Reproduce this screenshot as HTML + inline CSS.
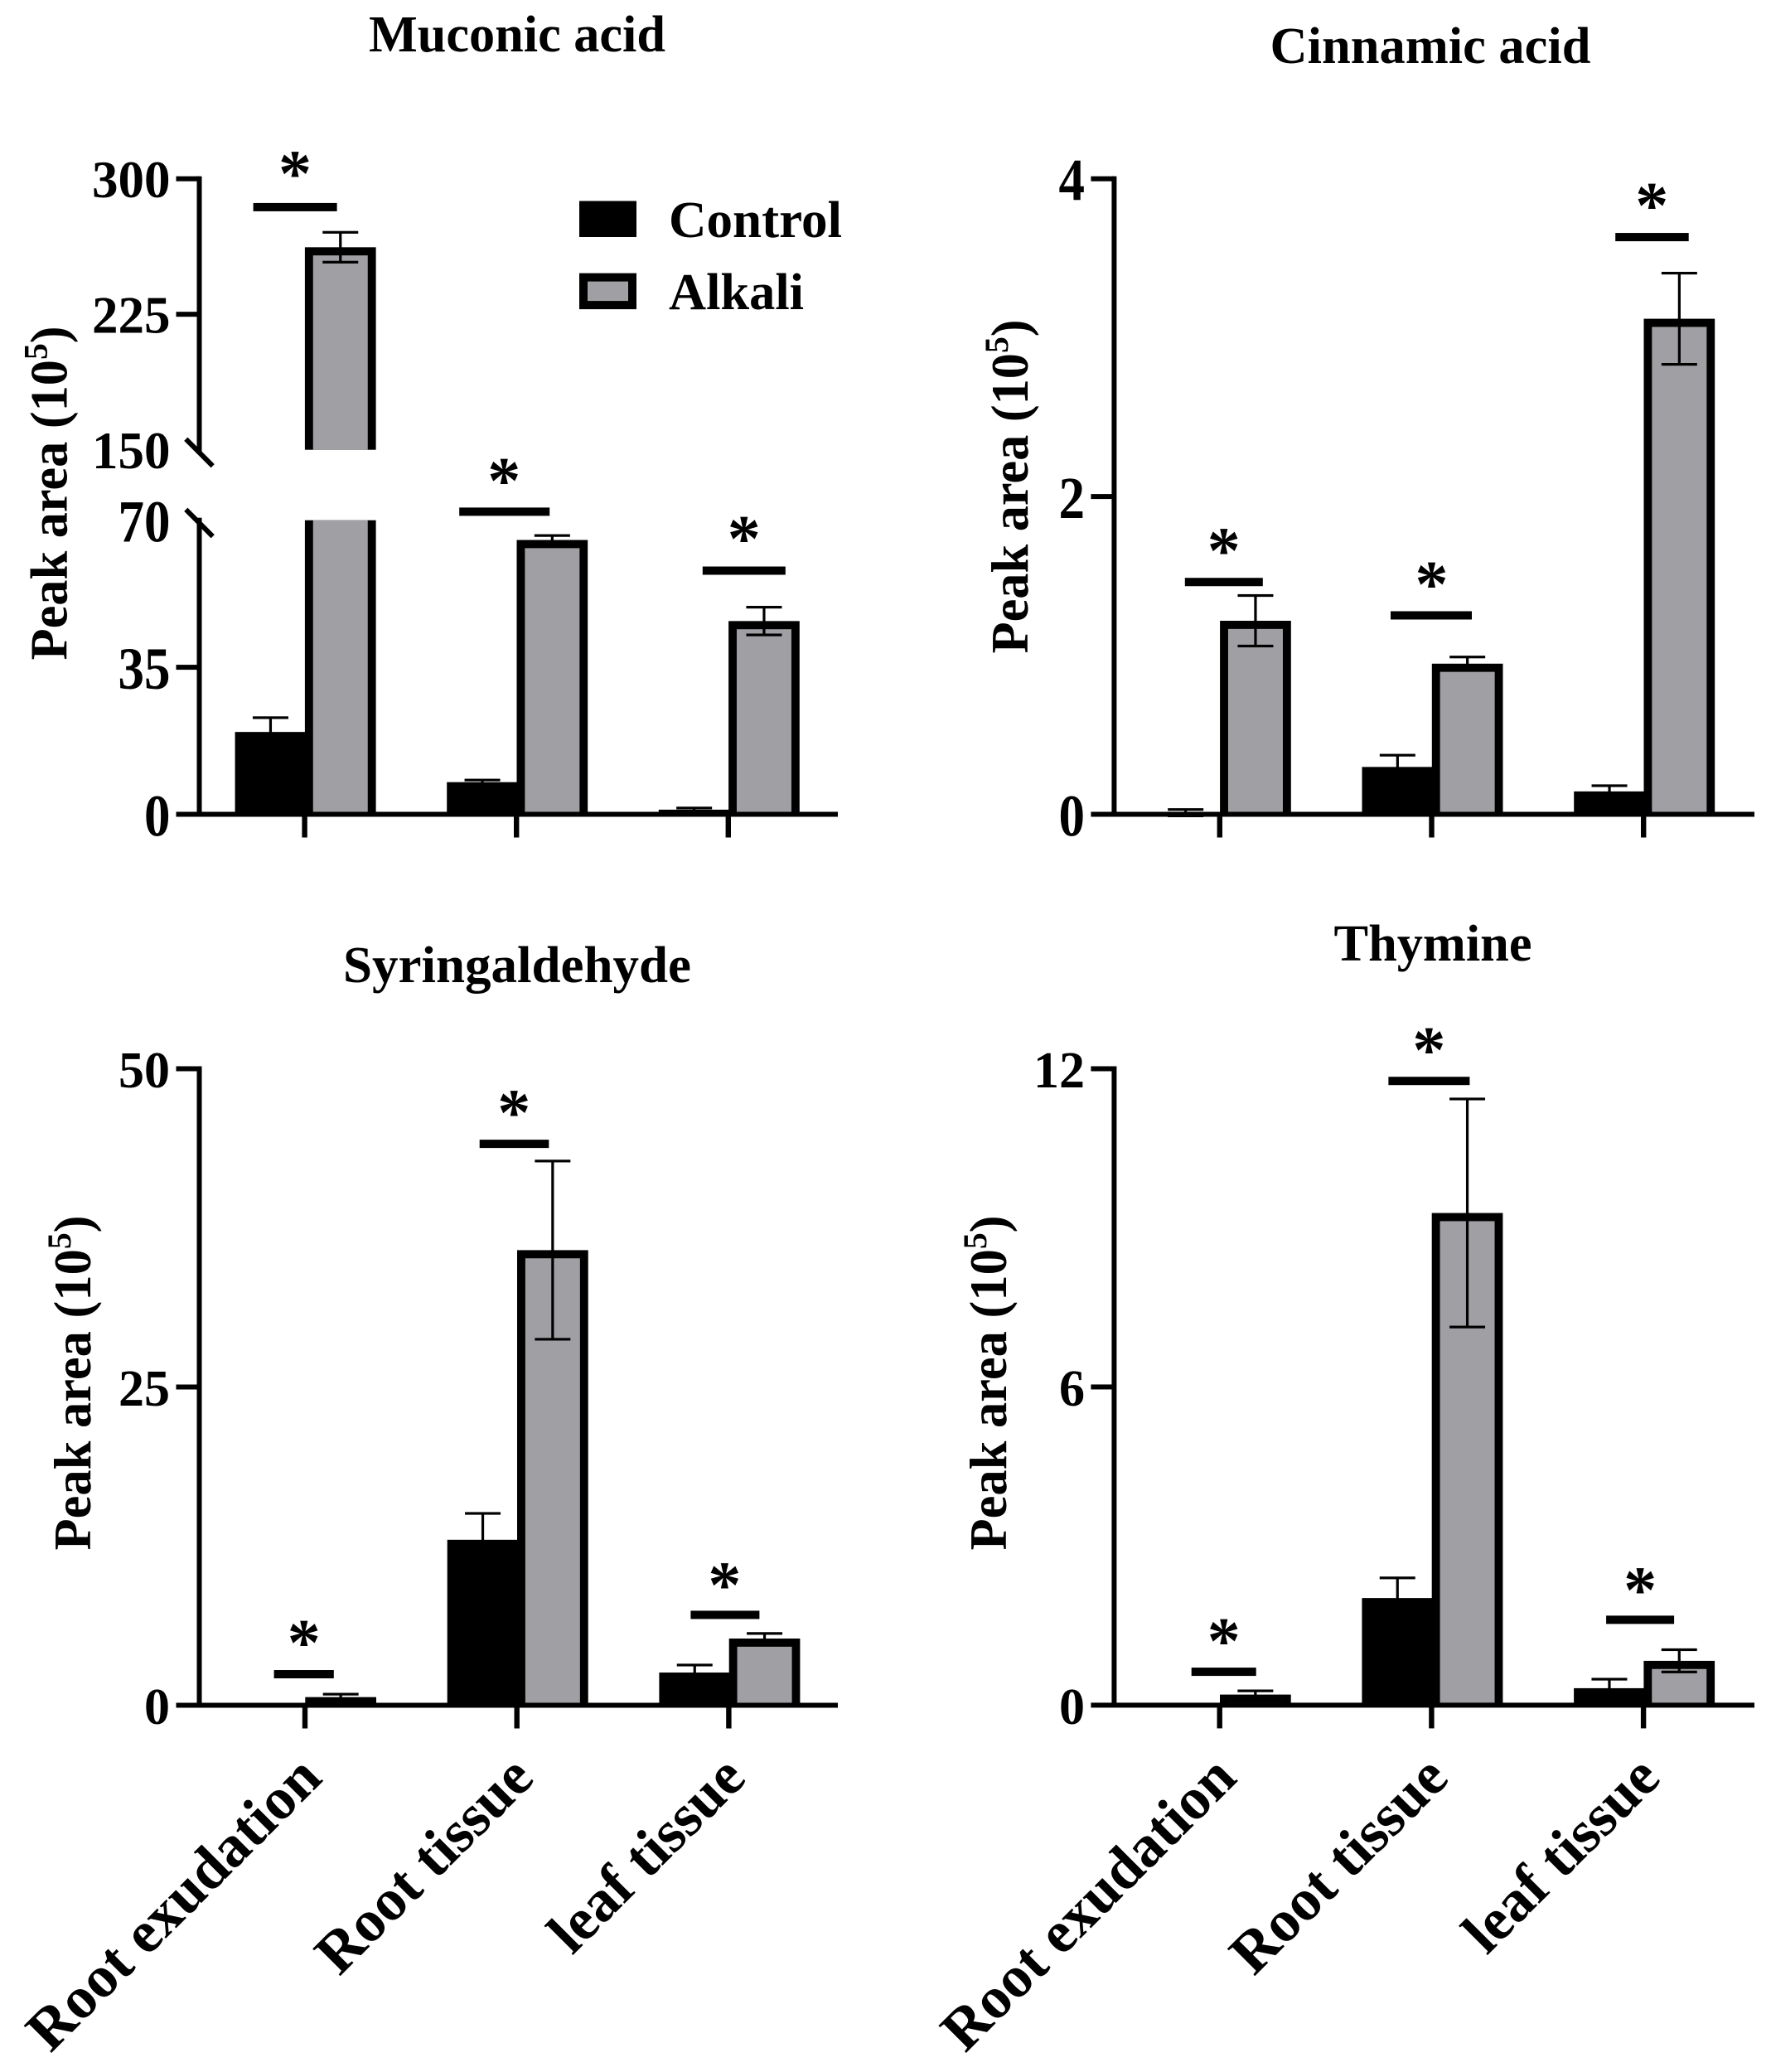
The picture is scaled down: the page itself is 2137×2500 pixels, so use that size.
<!DOCTYPE html>
<html lang="en">
<head>
<meta charset="utf-8">
<title>Peak area by tissue: four metabolites</title>
<style>
  html, body { margin: 0; padding: 0; background: #ffffff; }
  svg { display: block; }
  text { font-family: "Liberation Serif", "Times New Roman", serif; font-weight: bold; fill: #000000; }
</style>
</head>
<body>
<svg id="chart" xmlns="http://www.w3.org/2000/svg" width="2137" height="2500" viewBox="0 0 2137 2500">
  <rect x="0" y="0" width="2137" height="2500" fill="#ffffff"/>

  <text x="624" y="62" font-size="62" text-anchor="middle" textLength="358" lengthAdjust="spacingAndGlyphs">Muconic acid</text>
  <text x="1726" y="76" font-size="62" text-anchor="middle" textLength="387" lengthAdjust="spacingAndGlyphs">Cinnamic acid</text>
  <text x="624" y="1185" font-size="62" text-anchor="middle" textLength="420" lengthAdjust="spacingAndGlyphs">Syringaldehyde</text>
  <text x="1729" y="1159" font-size="62" text-anchor="middle" textLength="239" lengthAdjust="spacingAndGlyphs">Thymine</text>

  <text transform="translate(80.5,595) rotate(-90)" font-size="63" text-anchor="middle" textLength="403" lengthAdjust="spacingAndGlyphs">Peak area (10<tspan font-size="40" dy="-24">5</tspan><tspan dy="24">)</tspan></text>
  <text transform="translate(1240,587) rotate(-90)" font-size="63" text-anchor="middle" textLength="403" lengthAdjust="spacingAndGlyphs">Peak area (10<tspan font-size="40" dy="-24">5</tspan><tspan dy="24">)</tspan></text>
  <text transform="translate(109,1668.5) rotate(-90)" font-size="63" text-anchor="middle" textLength="404" lengthAdjust="spacingAndGlyphs">Peak area (10<tspan font-size="40" dy="-24">5</tspan><tspan dy="24">)</tspan></text>
  <text transform="translate(1214,1668.5) rotate(-90)" font-size="63" text-anchor="middle" textLength="404" lengthAdjust="spacingAndGlyphs">Peak area (10<tspan font-size="40" dy="-24">5</tspan><tspan dy="24">)</tspan></text>

  <g id="panels"></g>

  <g>
    <rect x="699" y="242.5" width="69" height="43.5" fill="#000000"/>
    <text x="807" y="286" font-size="62" textLength="209" lengthAdjust="spacingAndGlyphs">Control</text>
    <rect x="699" y="329.6" width="69" height="43.5" fill="#000000"/>
    <rect x="709" y="339.6" width="49" height="23.5" fill="#a0a0a4"/>
    <text x="807" y="373" font-size="62" textLength="163" lengthAdjust="spacingAndGlyphs">Alkali</text>
  </g>
</svg>

<script>
// ---- Chart data (units: peak area x 10^5) ----
const categories = ['Root exudation', 'Root tissue', 'leaf tissue'];

const yTicksMuconic = [0, 35, 70, 150, 225, 300];
const controlMuconic = [19.6, 7.65, 1.1];
const controlErrMuconic = [3.4, 0.5, 0.4];
const alkaliMuconic = [262.1, 65.3, 46];
const alkaliErrMuconic = [8.26, 1.06, 3.3];
const sigLevelMuconic = [284.3, 79.7, 58];

const yTicksCinnamic = [0, 2, 4];
const controlCinnamic = [0.01, 0.298, 0.144];
const controlErrCinnamic = [0.02, 0.074, 0.036];
const alkaliCinnamic = [1.218, 0.948, 3.119];
const alkaliErrCinnamic = [0.159, 0.042, 0.287];
const sigLevelCinnamic = [1.462, 1.252, 3.633];

const yTicksSyringaldehyde = [0, 25, 50];
const controlSyringaldehyde = [0, 13, 2.57];
const controlErrSyringaldehyde = [0, 2.07, 0.59];
const alkaliSyringaldehyde = [0.64, 35.75, 5.24];
const alkaliErrSyringaldehyde = [0.23, 7, 0.4];
const sigLevelSyringaldehyde = [2.44, 44.1, 7.1];

const yTicksThymine = [0, 6, 12];
const controlThymine = [0, 2.02, 0.32];
const controlErrThymine = [0, 0.38, 0.17];
const alkaliThymine = [0.2, 9.28, 0.836];
const alkaliErrThymine = [0.07, 2.15, 0.21];
const sigLevelThymine = [0.63, 11.77, 1.61];

// ---- Rendering ----
const SVG_NS = 'http://www.w3.org/2000/svg';
const GRAY = '#a0a0a4';
const root = document.getElementById('panels');

function make(parent, tag, attrs, name) {
  const el = document.createElementNS(SVG_NS, tag);
  for (const k in attrs) el.setAttribute(k, attrs[k]);
  
  
  parent.appendChild(el);
  return el;
}

function piecewise(domain, range) {
  return function (v) {
    let i = 0;
    while (i < domain.length - 2 && v > domain[i + 1]) i++;
    const t = (v - domain[i]) / (domain[i + 1] - domain[i]);
    return range[i] + t * (range[i + 1] - range[i]);
  };
}

function drawPanel(p) {
  const g = make(root, 'g', {}, 'panel-' + p.key);
  const y = piecewise(p.domain, p.range);
  const base = y(0);
  const x = function (i) { return p.x0 + i * p.step; };
  const BAR = 85.7, STROKE = 9.85, CAP = 43;

  function block(name, left, top, bottom, width, fill) {
    make(g, 'rect', { x: left, y: top, width: width, height: Math.max(0, bottom - top), fill: fill }, name);
  }

  categories.forEach(function (cat, i) {
    const slug = cat.toLowerCase().replace(/ /g, '-');
    const tick = x(i);
    const cLeft = tick - 84;
    const aLeft = tick + 0.3;

    // control bar
    if (p.control[i] > 0) {
      block('bar-control-' + slug, cLeft, y(p.control[i]), base, BAR, '#000000');
    }

    // alkali bar (black outline, grey fill), split across any axis break
    const v = p.alkali[i];
    if (p.broken && v > p.broken[0]) {
      const gapLow = y(p.broken[0]);
      const gapHigh = y(p.broken[1]);
      block('bar-alkali-lower-' + slug, aLeft, gapLow, base, BAR, '#000000');
      block('bar-alkali-lower-fill-' + slug, aLeft + STROKE, gapLow, base, BAR - 2 * STROKE, GRAY);
      block('bar-alkali-upper-' + slug, aLeft, y(v), gapHigh, BAR, '#000000');
      block('bar-alkali-upper-fill-' + slug, aLeft + STROKE, y(v) + STROKE, gapHigh, BAR - 2 * STROKE, GRAY);
    } else {
      block('bar-alkali-' + slug, aLeft, y(v), base, BAR, '#000000');
      block('bar-alkali-fill-' + slug, aLeft + STROKE, y(v) + STROKE, base, BAR - 2 * STROKE, GRAY);
    }

    // error bars
    [[p.control[i], p.controlErr[i], cLeft + BAR / 2, 'control'],
     [p.alkali[i], p.alkaliErr[i], aLeft + BAR / 2, 'alkali']].forEach(function (s) {
      if (s[1] <= 0) return;
      const hi = y(s[0] + s[1]);
      const lo = y(s[0] - s[1]);
      make(g, 'rect', { x: s[2] - 1.6, y: hi, width: 3.2, height: lo - hi, fill: '#000000' }, 'error-stem-' + s[3] + '-' + slug);
      make(g, 'rect', { x: s[2] - CAP / 2, y: hi - 1.6, width: CAP, height: 3.2, fill: '#000000' }, 'error-cap-high-' + s[3] + '-' + slug);
      make(g, 'rect', { x: s[2] - CAP / 2, y: lo - 1.6, width: CAP, height: 3.2, fill: '#000000' }, 'error-cap-low-' + s[3] + '-' + slug);
    });

    // significance annotation
    const ann = p.annotate[i];
    const sy = y(p.sig[i]);
    make(g, 'rect', { x: tick + ann.left, y: sy - 5, width: ann.right - ann.left, height: 10, fill: '#000000' }, 'significance-bar-' + slug);
    const star = make(g, 'text', { x: tick + ann.star, y: sy - ann.rise + 35, 'font-size': 80, 'text-anchor': 'middle' }, 'significance-star-' + slug);
    star.textContent = '*';

    // x tick
    make(g, 'rect', { x: tick - 3.2, y: base, width: 6.4, height: 28, fill: '#000000' }, 'x-tick-' + slug);

    // category label (bottom row only)
    if (p.showCategories) {
      const label = make(g, 'text', {
        transform: 'translate(' + (tick + 23) + ',2148) rotate(-45)',
        'font-size': 71.5,
        'text-anchor': 'end'
      }, 'x-label-' + slug);
      label.textContent = cat;
    }
  });

  // axes
  const axisTop = p.range[p.range.length - 1];
  if (p.broken) {
    const gapLow = y(p.broken[0]);
    const gapHigh = y(p.broken[1]);
    make(g, 'rect', { x: p.axisX - 3, y: axisTop - 3, width: 6, height: gapHigh + 4 - axisTop + 3, fill: '#000000' }, 'y-axis-upper');
    make(g, 'rect', { x: p.axisX - 3, y: gapLow - 3, width: 6, height: base - gapLow + 3, fill: '#000000' }, 'y-axis-lower');
    [gapHigh, gapLow].forEach(function (gy, k) {
      make(g, 'line', { x1: p.axisX - 16.2, y1: gy - 13, x2: p.axisX + 16.2, y2: gy + 19.5, stroke: '#000000', 'stroke-width': 6 }, k === 0 ? 'axis-break-upper' : 'axis-break-lower');
    });
  } else {
    make(g, 'rect', { x: p.axisX - 3, y: axisTop - 3, width: 6, height: base - axisTop + 3, fill: '#000000' }, 'y-axis');
  }
  make(g, 'rect', { x: p.axisX - 28, y: base - 3, width: p.axisEnd - p.axisX + 28, height: 6, fill: '#000000' }, 'x-axis');

  // y ticks + labels
  p.ticks.forEach(function (t) {
    const ty = y(t);
    const isBreak = p.broken && p.broken.indexOf(t) >= 0;
    if (!isBreak && t !== 0) {
      make(g, 'rect', { x: p.axisX - 28, y: ty - 3, width: 28, height: 6, fill: '#000000' }, 'y-tick-' + t);
    }
    const stretch = p.labelStretch(t);
    const label = make(g, 'text', {
      transform: 'translate(' + p.labelRight + ',' + (ty + 22.5 * stretch) + ') scale(1,' + stretch + ')',
      'font-size': p.labelSize,
      'text-anchor': 'end'
    }, 'y-tick-label-' + t);
    label.textContent = String(t);
  });
}

drawPanel({
  key: 'muconic-acid', x0: 367.6, step: 255.6, axisX: 240.5, axisEnd: 1011, labelRight: 205.5, labelSize: 63,
  domain: [0, 70, 150, 300], range: [982.5, 627.7, 542.7, 215.7], broken: [70, 150],
  ticks: yTicksMuconic, control: controlMuconic, controlErr: controlErrMuconic,
  alkali: alkaliMuconic, alkaliErr: alkaliErrMuconic, sig: sigLevelMuconic,
  labelStretch: function (t) { return t <= 70 ? 1.15 : 1; },
  annotate: [{ left: -62, right: 39, star: -11.6, rise: 48.3 }, { left: -69, right: 40, star: -15, rise: 45.3 }, { left: -31, right: 69, star: 19, rise: 46.3 }]
});
drawPanel({
  key: 'cinnamic-acid', x0: 1471.8, step: 255.7, axisX: 1344.4, axisEnd: 2117, labelRight: 1309, labelSize: 63,
  domain: [0, 4], range: [982.5, 215.7],
  ticks: yTicksCinnamic, control: controlCinnamic, controlErr: controlErrCinnamic,
  alkali: alkaliCinnamic, alkaliErr: alkaliErrCinnamic, sig: sigLevelCinnamic,
  labelStretch: function () { return 1.15; },
  annotate: [{ left: -42, right: 52, star: 5, rise: 45.6 }, { left: -49.5, right: 48.5, star: 0, rise: 45.6 }, { left: -34, right: 54.5, star: 10, rise: 46 }]
});
drawPanel({
  key: 'syringaldehyde', x0: 368, step: 255.7, axisX: 240.5, axisEnd: 1011, labelRight: 205, labelSize: 62, showCategories: true,
  domain: [0, 50], range: [2057.5, 1289.5],
  ticks: yTicksSyringaldehyde, control: controlSyringaldehyde, controlErr: controlErrSyringaldehyde,
  alkali: alkaliSyringaldehyde, alkaliErr: alkaliErrSyringaldehyde, sig: sigLevelSyringaldehyde,
  labelStretch: function () { return 1; },
  annotate: [{ left: -37.4, right: 34.8, star: -1.3, rise: 46 }, { left: -45, right: 38.6, star: -3.4, rise: 45.8 }, { left: -46, right: 37, star: -5, rise: 43.8 }]
});
drawPanel({
  key: 'thymine', x0: 1471.7, step: 255.7, axisX: 1344.4, axisEnd: 2117, labelRight: 1309, labelSize: 62, showCategories: true,
  domain: [0, 12], range: [2057.4, 1289.5],
  ticks: yTicksThymine, control: controlThymine, controlErr: controlErrThymine,
  alkali: alkaliThymine, alkaliErr: alkaliErrThymine, sig: sigLevelThymine,
  labelStretch: function () { return 1; },
  annotate: [{ left: -34, right: 44, star: 5, rise: 45 }, { left: -52, right: 46, star: -3, rise: 45 }, { left: -45, right: 37, star: -4, rise: 44 }]
});
</script>
</body>
</html>
